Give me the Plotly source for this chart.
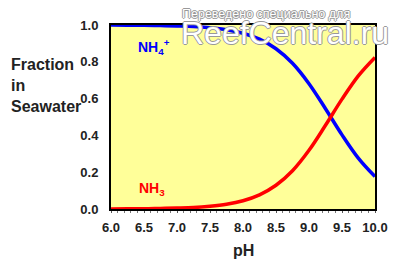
import plotly.graph_objects as go

ph = [6.0, 6.25, 6.5, 6.75, 7.0, 7.25, 7.5, 7.75, 8.0, 8.25, 8.5, 8.75, 9.0, 9.25, 9.5, 9.75, 10.0]
nh3 = [0.000, 0.001, 0.001, 0.003, 0.005, 0.008, 0.015, 0.026, 0.045, 0.077, 0.129, 0.208, 0.319, 0.455, 0.597, 0.725, 0.824]
nh4 = [1.000, 0.999, 0.999, 0.997, 0.995, 0.992, 0.985, 0.974, 0.955, 0.923, 0.871, 0.792, 0.681, 0.545, 0.403, 0.275, 0.176]
x_ticks = [6.0, 6.5, 7.0, 7.5, 8.0, 8.5, 9.0, 9.5, 10.0]
y_ticks = [0.0, 0.2, 0.4, 0.6, 0.8, 1.0]

FONT = "Liberation Sans, Arial, sans-serif"

fig = go.Figure()
fig.add_trace(go.Scatter(x=ph, y=nh4, mode="lines", line=dict(color="#0000FF", width=3.5, shape="spline"),
                         cliponaxis=False, hoverinfo="skip"))
fig.add_trace(go.Scatter(x=ph, y=nh3, mode="lines", line=dict(color="#FF0000", width=3.5, shape="spline"),
                         cliponaxis=False, hoverinfo="skip"))

fig.update_layout(
    width=400, height=265,
    margin=dict(l=111, r=25, t=25, b=56),
    paper_bgcolor="white",
    plot_bgcolor="#FFFF99",
    showlegend=False,
    font=dict(family=FONT, color="#222222"),
    xaxis=dict(range=[6.0, 10.0], tickvals=x_ticks, ticktext=[f"{v:.1f}" for v in x_ticks],
               showgrid=False, zeroline=False, showline=True, linecolor="black", linewidth=2,
               mirror=True, ticks="outside", ticklen=2, tickcolor="#555555", tickwidth=1,
               minor=dict(dtick=0.1, ticks="outside", ticklen=2, tickcolor="#777777", showgrid=False),
               ticklabelstandoff=3,
               tickfont=dict(size=13, family=FONT, weight="bold", color="#222222"),
               layer="below traces", fixedrange=True),
    yaxis=dict(range=[0.0, 1.0], tickvals=y_ticks, ticktext=[f"{v:.1f}" for v in y_ticks],
               showgrid=False, zeroline=False, showline=True, linecolor="black", linewidth=2,
               mirror=True, ticks="", ticklabelstandoff=8,
               tickfont=dict(size=13, family=FONT, weight="bold", color="#222222"),
               layer="below traces", fixedrange=True),
)

ann = [
    dict(text="pH", x=243, y=250, size=16, color="#222222"),
    dict(text="Fraction<br>in<br>Seawater", x=9, y=85, size=16, color="#222222", xanchor="left", align="left"),
]
for a in ann:
    fig.add_annotation(text=a["text"], xref="paper", yref="paper",
                       x=(a["x"] - 111) / 264, y=1 - (a["y"] - 25) / 184,
                       xanchor=a.get("xanchor", "center"), yanchor="middle", align=a.get("align", "center"),
                       showarrow=False,
                       font=dict(size=a["size"], family=FONT, weight="bold", color=a["color"]))

fig.add_annotation(text="NH<sub>4</sub><sup>+</sup>", xref="paper", yref="paper",
                   x=(136 - 111) / 264, y=1 - (47 - 25) / 184, xanchor="left", yanchor="middle",
                   showarrow=False, font=dict(size=14, family=FONT, weight="bold", color="#0000FF"))
fig.add_annotation(text="NH<sub>3</sub>", xref="paper", yref="paper",
                   x=(137 - 111) / 264, y=1 - (189 - 25) / 184, xanchor="left", yanchor="middle",
                   showarrow=False, font=dict(size=14, family=FONT, weight="bold", color="#FF0000"))

outline = "1px 0 0 #999999, -1px 0 0 #999999, 0 1px 0 #999999, 0 -1px 0 #999999"
fig.add_annotation(text="Переведено специально для", xref="paper", yref="paper",
                   x=(180 - 111) / 264, y=1 - (14 - 25) / 184, xanchor="left", yanchor="middle",
                   showarrow=False, font=dict(size=12.5, family=FONT, color="white", shadow=outline))
fig.add_annotation(text="ReefCentral.ru", xref="paper", yref="paper",
                   x=(179 - 111) / 264, y=1 - (33 - 25) / 184, xanchor="left", yanchor="middle",
                   showarrow=False, font=dict(size=32, family=FONT, color="white", shadow=outline))

fig.write_html("out.html")
